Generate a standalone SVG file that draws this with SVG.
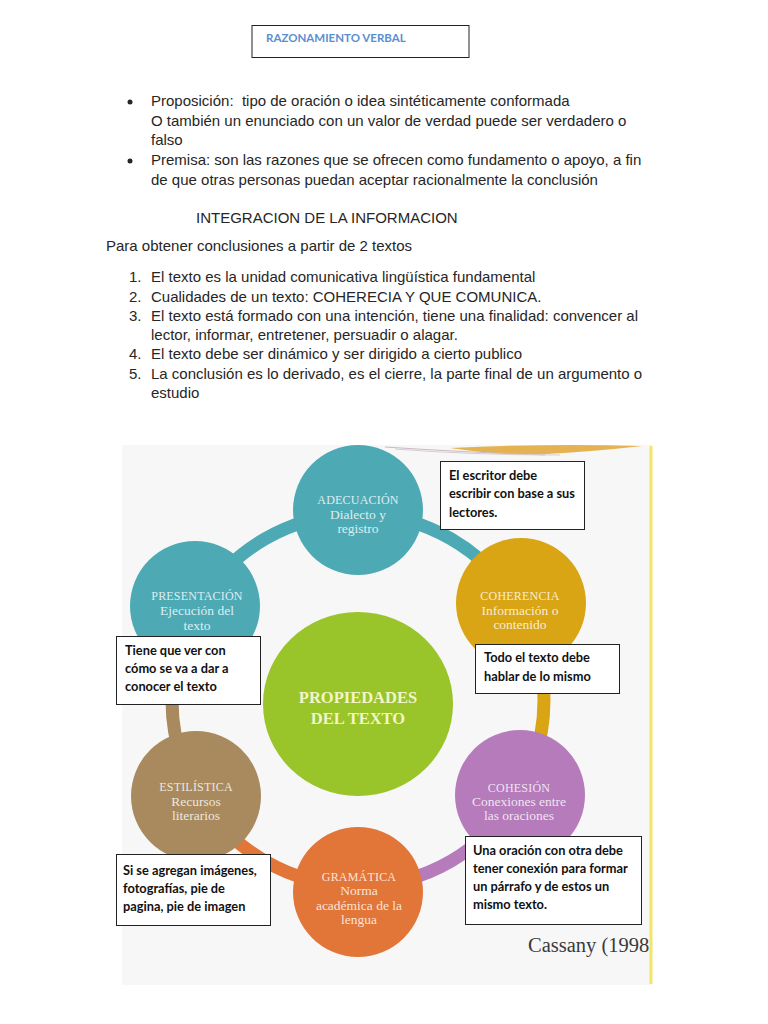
<svg xmlns="http://www.w3.org/2000/svg" width="768" height="1024" viewBox="0 0 768 1024">
<style>
.body{font-family:"Liberation Sans",Arial,sans-serif;font-size:15px;fill:#262626}
.call{font-family:Lato,"Liberation Sans",sans-serif;font-weight:bold;font-size:12.8px;fill:#111}
.box{fill:#fff;stroke:#222;stroke-width:1}
.lab{font-family:"Liberation Serif","Times New Roman",serif;font-size:13.5px;fill:#fff;fill-opacity:0.82;text-anchor:middle}
.tit{font-size:12px;letter-spacing:0.2px}
.ring{fill:none;stroke-width:13}
</style>
<rect width="768" height="1024" fill="#fff"/>
<g id="header">
<rect x="252" y="25.500" width="217" height="32" fill="#fff" stroke="#222" stroke-width="1"/>
<text x="266" y="42" font-family="Lato,'Liberation Sans',sans-serif" font-weight="bold" font-size="11.5px" fill="#5B8FD0">RAZONAMIENTO VERBAL</text>
</g>
<g id="bullets" class="body">
<circle cx="130" cy="102" r="2.5" fill="#262626"/>
<text x="151" y="106" xml:space="preserve">Proposición:  tipo de oración o idea sintéticamente conformada</text>
<text x="151" y="126">O también un enunciado con un valor de verdad puede ser verdadero o</text>
<text x="151" y="145">falso</text>
<circle cx="130" cy="161" r="2.5" fill="#262626"/>
<text x="151" y="165">Premisa: son las razones que se ofrecen como fundamento o apoyo, a fin</text>
<text x="151" y="185">de que otras personas puedan aceptar racionalmente la conclusión</text>
</g>
<g id="integracion" class="body">
<text x="196" y="223">INTEGRACION DE LA INFORMACION</text>
<text x="106" y="251">Para obtener conclusiones a partir de 2 textos</text>
<text x="129" y="282">1.</text><text x="151" y="282">El texto es la unidad comunicativa lingüística fundamental</text>
<text x="129" y="302">2.</text><text x="151" y="302">Cualidades de un texto: COHERECIA Y QUE COMUNICA.</text>
<text x="129" y="321">3.</text><text x="151" y="321">El texto está formado con una intención, tiene una finalidad: convencer al</text>
<text x="151" y="340">lector, informar, entretener, persuadir o alagar.</text>
<text x="129" y="359">4.</text><text x="151" y="359">El texto debe ser dinámico y ser dirigido a cierto publico</text>
<text x="129" y="379">5.</text><text x="151" y="379">La conclusión es lo derivado, es el cierre, la parte final de un argumento o</text>
<text x="151" y="398">estudio</text>
</g>
<g id="diagram-bg">
<rect x="122" y="445" width="530" height="540" fill="#f7f7f7"/>
<path d="M450 448 Q550 443 642 446 Q590 452 530 455 Q480 453 450 448 Z" fill="#E2A634" opacity="0.85"/>
<path d="M385 447 Q460 452 545 455" fill="none" stroke="#c9b9c2" stroke-width="1"/>
<path d="M395 449 Q470 455 560 455" fill="none" stroke="#d8ccd2" stroke-width="1"/>
<line x1="651" y1="446" x2="651" y2="984" stroke="#F4E46A" stroke-width="3"/>
</g>
<g id="connectors">
<path class="ring" stroke="#4DAAB5" d="M196.92 607 A186 186 0 0 1 358 514 A186 186 0 0 1 519.08 607"/>
<path class="ring" stroke="#D9A515" d="M519.08 607 A186 186 0 0 1 519.08 793"/>
<path class="ring" stroke="#B57BBB" d="M519.08 793 A186 186 0 0 1 358 886"/>
<path class="ring" stroke="#E27638" d="M358 886 A186 186 0 0 1 196.92 793"/>
<path class="ring" stroke="#A88A5E" d="M196.92 793 A186 186 0 0 1 196.92 607"/>
</g>
<g id="adecuacion">
<circle cx="358" cy="510" r="65" fill="#4DAAB5"/>
<text class="lab"><tspan class="tit" x="358" y="504">ADECUACIÓN</tspan><tspan x="358" y="519">Dialecto y</tspan><tspan x="358" y="533">registro</tspan></text>
</g>
<g id="coherencia">
<circle cx="521" cy="603" r="65" fill="#D9A515"/>
<text class="lab"><tspan class="tit" x="520" y="600">COHERENCIA</tspan><tspan x="520" y="615">Información o</tspan><tspan x="520" y="629">contenido</tspan></text>
</g>
<g id="cohesion">
<circle cx="520" cy="795" r="65" fill="#B57BBB"/>
<text class="lab"><tspan class="tit" x="519" y="792">COHESIÓN</tspan><tspan x="519" y="806">Conexiones entre</tspan><tspan x="519" y="820">las oraciones</tspan></text>
</g>
<g id="gramatica">
<circle cx="358" cy="892" r="65" fill="#E27638"/>
<text class="lab"><tspan class="tit" x="359" y="881">GRAMÁTICA</tspan><tspan x="359" y="895">Norma</tspan><tspan x="359" y="910">académica de la</tspan><tspan x="359" y="924">lengua</tspan></text>
</g>
<g id="estilistica">
<circle cx="196" cy="796" r="65" fill="#A88A5E"/>
<text class="lab"><tspan class="tit" x="196" y="791">ESTILÍSTICA</tspan><tspan x="196" y="806">Recursos</tspan><tspan x="196" y="820">literarios</tspan></text>
</g>
<g id="presentacion">
<circle cx="195" cy="606" r="65" fill="#4DAAB5"/>
<text class="lab"><tspan class="tit" x="197" y="600">PRESENTACIÓN</tspan><tspan x="197" y="615">Ejecución del</tspan><tspan x="197" y="630">texto</tspan></text>
</g>
<g id="propiedades">
<ellipse cx="358" cy="704" rx="95" ry="92" fill="#99C42A"/>
<text x="358" text-anchor="middle" font-family="'Liberation Serif',serif" font-weight="bold" font-size="16.5px" fill="#F2F5C8"><tspan x="358" y="703">PROPIEDADES</tspan><tspan x="358" y="724">DEL TEXTO</tspan></text>
</g>
<g id="note-adecuacion">
<rect class="box" x="440.500" y="461.500" width="144" height="68"/>
<text class="call"><tspan x="449" y="480">El escritor debe</tspan><tspan x="449" y="498">escribir con base a sus</tspan><tspan x="449" y="517">lectores.</tspan></text>
</g>
<g id="note-coherencia">
<rect class="box" x="475.500" y="644.500" width="144" height="49"/>
<text class="call"><tspan x="484" y="662">Todo el texto debe</tspan><tspan x="484" y="681">hablar de lo mismo</tspan></text>
</g>
<g id="note-presentacion">
<rect class="box" x="116.500" y="636.500" width="144" height="68"/>
<text class="call"><tspan x="125" y="655">Tiene que ver con</tspan><tspan x="125" y="673">cómo se va a dar a</tspan><tspan x="125" y="691">conocer el texto</tspan></text>
</g>
<g id="note-estilistica">
<rect class="box" x="116.500" y="854.500" width="154" height="71"/>
<text class="call"><tspan x="123" y="875">Si se agregan imágenes,</tspan><tspan x="123" y="893">fotografías, pie de</tspan><tspan x="123" y="911">pagina, pie de imagen</tspan></text>
</g>
<g id="note-cohesion">
<rect class="box" x="465.500" y="836.500" width="176" height="88"/>
<text class="call"><tspan x="473" y="855">Una oración con otra debe</tspan><tspan x="473" y="873">tener conexión para formar</tspan><tspan x="473" y="891">un párrafo y de estos un</tspan><tspan x="473" y="909">mismo texto.</tspan></text>
</g>
<text id="cite" x="528" y="952" font-family="'Liberation Serif',serif" font-size="20.5px" fill="#3a3a3a">Cassany (1998</text>
</svg>
